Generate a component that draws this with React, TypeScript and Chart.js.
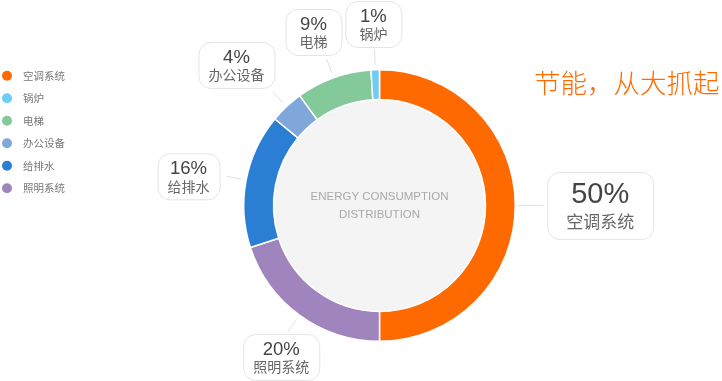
import React, { useEffect, useRef } from "react";
import { Chart, registerables } from "chart.js";

Chart.register(...registerables);

// ---- data ----
const categories = ["空调系统", "照明系统", "给排水", "办公设备", "电梯", "锅炉"];
const shares = [50, 20, 16, 4, 9, 1];
const colors = ["#ff6a00", "#a084bd", "#2a7fd4", "#7fa7da", "#84c99a", "#6ccdf5"];
const legendOrder = ["空调系统", "锅炉", "电梯", "办公设备", "给排水", "照明系统"];
const centerLines = ["ENERGY CONSUMPTION", "DISTRIBUTION"];
const slogan = "节能，从大抓起";

const LATIN = "'Liberation Sans', Arial, 'Noto Sans CJK SC', sans-serif";
const CJK = "'Noto Sans CJK SC', 'Liberation Sans', sans-serif";

function roundRect(ctx: CanvasRenderingContext2D, x: number, y: number, w: number, h: number, r: number) {
  ctx.beginPath();
  ctx.moveTo(x + r, y);
  ctx.lineTo(x + w - r, y);
  ctx.arcTo(x + w, y, x + w, y + r, r);
  ctx.lineTo(x + w, y + h - r);
  ctx.arcTo(x + w, y + h, x + w - r, y + h, r);
  ctx.lineTo(x + r, y + h);
  ctx.arcTo(x, y + h, x, y + h - r, r);
  ctx.lineTo(x, y + r);
  ctx.arcTo(x, y, x + r, y, r);
  ctx.closePath();
}

const decorPlugin = {
  id: "decor",
  beforeDatasetsDraw(chart: any) {
    const meta = chart.getDatasetMeta(0);
    const arc = meta.data[0];
    if (!arc) return;
    const p = arc.getProps(["x", "y", "innerRadius"], true);
    const ctx: CanvasRenderingContext2D = chart.ctx;
    ctx.save();
    ctx.beginPath();
    ctx.arc(p.x, p.y, p.innerRadius, 0, Math.PI * 2);
    ctx.fillStyle = "#f4f4f4";
    ctx.fill();
    ctx.fillStyle = "#a9a9a9";
    ctx.font = `11.5px ${LATIN}`;
    ctx.textAlign = "center";
    ctx.textBaseline = "middle";
    ctx.fillText(centerLines[0], p.x, p.y - 9);
    ctx.fillText(centerLines[1], p.x, p.y + 9.5);
    ctx.restore();
  },
  afterDatasetsDraw(chart: any) {
    const ctx: CanvasRenderingContext2D = chart.ctx;
    const meta = chart.getDatasetMeta(0);
    const data: number[] = chart.data.datasets[0].data;
    const labels: string[] = chart.data.labels;
    const maxIdx = data.indexOf(Math.max(...data));
    const W = chart.width;
    const H = chart.height;
    ctx.save();
    meta.data.forEach((arc: any, i: number) => {
      const p = arc.getProps(["x", "y", "startAngle", "endAngle", "outerRadius"], true);
      const mid = (p.startAngle + p.endAngle) / 2;
      const dx = Math.cos(mid);
      const dy = Math.sin(mid);
      const big = i === maxIdx;
      const r0 = p.outerRadius + (big ? 2 : 5);
      const r1 = p.outerRadius + (big ? 28 : 20);
      const sx = p.x + dx * r0, sy = p.y + dy * r0;
      const ex = p.x + dx * r1, ey = p.y + dy * r1;

      ctx.strokeStyle = "#e0e0e0";
      ctx.lineWidth = 1;
      ctx.beginPath();
      ctx.moveTo(sx, sy);
      ctx.lineTo(ex, ey);
      ctx.stroke();

      const valText = `${data[i]}%`;
      const valFont = big ? `29px ${LATIN}` : `18.5px ${LATIN}`;
      const nameFont = big ? `17px ${CJK}` : `14px ${CJK}`;
      ctx.font = valFont;
      const vw = ctx.measureText(valText).width;
      ctx.font = nameFont;
      const nw = ctx.measureText(labels[i]).width;
      const w = Math.max(Math.max(vw, nw) + (big ? 38 : 20), big ? 106 : 56);
      const h = big ? 67 : 46;
      let left: number, top: number;
      if (Math.abs(dx) > Math.abs(dy)) {
        left = dx > 0 ? ex + 4 : ex - 7 - w;
        top = ey - h / 2;
      } else {
        top = dy < 0 ? ey - 4 - h : ey + 4;
        const f = dy < 0 ? 0.7 : 0.15;
        const cx = ex + dx * w * f;
        left = cx - w / 2;
      }
      top = Math.max(1, Math.min(top, H - h - 1));
      left = Math.max(1, Math.min(left, W - w - 1));

      roundRect(ctx, left + 0.5, top + 0.5, w, h, 12);
      ctx.fillStyle = "#ffffff";
      ctx.fill();
      ctx.strokeStyle = "#e4e4e4";
      ctx.stroke();

      ctx.textAlign = "center";
      ctx.textBaseline = "middle";
      ctx.fillStyle = "#444444";
      ctx.font = valFont;
      ctx.fillText(valText, left + w / 2, top + (big ? 23 : 16));
      ctx.fillStyle = "#666666";
      ctx.font = nameFont;
      ctx.fillText(labels[i], left + w / 2, top + (big ? 50 : 33));
    });
    ctx.restore();
  },
  afterDraw(chart: any) {
    const ctx: CanvasRenderingContext2D = chart.ctx;
    ctx.save();
    // legend
    ctx.textAlign = "left";
    ctx.textBaseline = "middle";
    ctx.font = `10.5px ${CJK}`;
    legendOrder.forEach((name, k) => {
      const idx = categories.indexOf(name);
      const y = 75.7 + k * 22.5;
      ctx.beginPath();
      ctx.arc(7, y, 5, 0, Math.PI * 2);
      ctx.fillStyle = colors[idx];
      ctx.fill();
      ctx.fillStyle = "#777777";
      ctx.fillText(name, 23, y);
    });
    // slogan
    ctx.font = `300 26.5px ${CJK}`;
    ctx.fillStyle = "#ff6a00";
    ctx.textAlign = "left";
    ctx.fillText(slogan, 534, 83);
    ctx.restore();
  },
};

export default function App() {
  const ref = useRef<HTMLCanvasElement | null>(null);
  useEffect(() => {
    document.body.style.margin = "0";
    const canvas = ref.current!;
    const chart = new Chart(canvas, {
      type: "doughnut",
      data: {
        labels: categories,
        datasets: [
          {
            data: shares,
            backgroundColor: colors,
            borderColor: "#ffffff",
            borderWidth: 1.5,
          },
        ],
      },
      options: {
        responsive: false,
        animation: false,
        events: [],
        cutout: 106,
        layout: { padding: { left: 243, right: 206, top: 69, bottom: 39 } },
        plugins: {
          legend: { display: false },
          tooltip: { enabled: false },
        },
      },
      plugins: [decorPlugin],
    });
    return () => chart.destroy();
  }, []);
  return (
    <div style={{ width: 722, height: 381, background: "#ffffff" }}>
      <canvas ref={ref} width={722} height={381} style={{ display: "block" }} />
    </div>
  );
}
